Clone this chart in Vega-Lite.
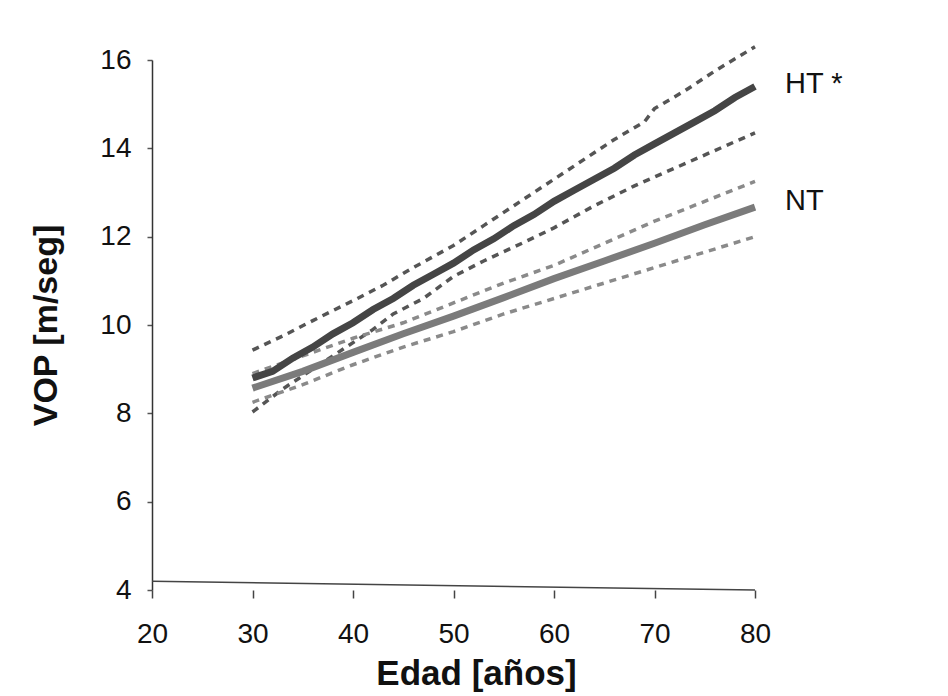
{
  "$schema": "https://vega.github.io/schema/vega-lite/v6.json",
  "width": 603,
  "height": 530,
  "autosize": {"type": "none"},
  "padding": {"left": 152, "top": 60, "right": 193, "bottom": 106},
  "background": "white",
  "config": {
    "view": {"stroke": null},
    "font": "Liberation Sans"
  },
  "datasets": {
    "lines": [
      {"s": "HT", "x": 30, "y": 8.8}, {"s": "HT", "x": 32, "y": 8.95}, {"s": "HT", "x": 34, "y": 9.25}, {"s": "HT", "x": 36, "y": 9.5}, {"s": "HT", "x": 38, "y": 9.8}, {"s": "HT", "x": 40, "y": 10.05}, {"s": "HT", "x": 42, "y": 10.35}, {"s": "HT", "x": 44, "y": 10.6}, {"s": "HT", "x": 46, "y": 10.9}, {"s": "HT", "x": 48, "y": 11.15}, {"s": "HT", "x": 50, "y": 11.4}, {"s": "HT", "x": 52, "y": 11.7}, {"s": "HT", "x": 54, "y": 11.95}, {"s": "HT", "x": 56, "y": 12.25}, {"s": "HT", "x": 58, "y": 12.5}, {"s": "HT", "x": 60, "y": 12.8}, {"s": "HT", "x": 62, "y": 13.05}, {"s": "HT", "x": 64, "y": 13.3}, {"s": "HT", "x": 66, "y": 13.55}, {"s": "HT", "x": 68, "y": 13.85}, {"s": "HT", "x": 70, "y": 14.1}, {"s": "HT", "x": 72, "y": 14.35}, {"s": "HT", "x": 74, "y": 14.6}, {"s": "HT", "x": 76, "y": 14.85}, {"s": "HT", "x": 78, "y": 15.15}, {"s": "HT", "x": 80, "y": 15.4},
      {"s": "HT_sup", "x": 30, "y": 9.43}, {"s": "HT_sup", "x": 33, "y": 9.75}, {"s": "HT_sup", "x": 36, "y": 10.1}, {"s": "HT_sup", "x": 40, "y": 10.55}, {"s": "HT_sup", "x": 43, "y": 10.9}, {"s": "HT_sup", "x": 46, "y": 11.3}, {"s": "HT_sup", "x": 50, "y": 11.8}, {"s": "HT_sup", "x": 53, "y": 12.25}, {"s": "HT_sup", "x": 56, "y": 12.7}, {"s": "HT_sup", "x": 60, "y": 13.3}, {"s": "HT_sup", "x": 63, "y": 13.75}, {"s": "HT_sup", "x": 66, "y": 14.2}, {"s": "HT_sup", "x": 69, "y": 14.6}, {"s": "HT_sup", "x": 70, "y": 14.9}, {"s": "HT_sup", "x": 73, "y": 15.3}, {"s": "HT_sup", "x": 76, "y": 15.75}, {"s": "HT_sup", "x": 80, "y": 16.3},
      {"s": "HT_inf", "x": 30, "y": 8.03}, {"s": "HT_inf", "x": 33, "y": 8.55}, {"s": "HT_inf", "x": 36, "y": 9.0}, {"s": "HT_inf", "x": 39, "y": 9.45}, {"s": "HT_inf", "x": 42, "y": 9.9}, {"s": "HT_inf", "x": 44, "y": 10.25}, {"s": "HT_inf", "x": 47, "y": 10.6}, {"s": "HT_inf", "x": 50, "y": 11.1}, {"s": "HT_inf", "x": 53, "y": 11.45}, {"s": "HT_inf", "x": 57, "y": 11.87}, {"s": "HT_inf", "x": 60, "y": 12.2}, {"s": "HT_inf", "x": 64, "y": 12.7}, {"s": "HT_inf", "x": 68, "y": 13.15}, {"s": "HT_inf", "x": 72, "y": 13.55}, {"s": "HT_inf", "x": 76, "y": 13.95}, {"s": "HT_inf", "x": 80, "y": 14.35},
      {"s": "NT", "x": 30, "y": 8.57}, {"s": "NT", "x": 35, "y": 8.95}, {"s": "NT", "x": 40, "y": 9.38}, {"s": "NT", "x": 45, "y": 9.8}, {"s": "NT", "x": 50, "y": 10.2}, {"s": "NT", "x": 55, "y": 10.62}, {"s": "NT", "x": 60, "y": 11.05}, {"s": "NT", "x": 65, "y": 11.45}, {"s": "NT", "x": 70, "y": 11.85}, {"s": "NT", "x": 75, "y": 12.27}, {"s": "NT", "x": 80, "y": 12.67},
      {"s": "NT_sup", "x": 30, "y": 8.9}, {"s": "NT_sup", "x": 35, "y": 9.3}, {"s": "NT_sup", "x": 40, "y": 9.7}, {"s": "NT_sup", "x": 45, "y": 10.05}, {"s": "NT_sup", "x": 50, "y": 10.5}, {"s": "NT_sup", "x": 55, "y": 10.95}, {"s": "NT_sup", "x": 60, "y": 11.35}, {"s": "NT_sup", "x": 65, "y": 11.85}, {"s": "NT_sup", "x": 70, "y": 12.35}, {"s": "NT_sup", "x": 75, "y": 12.8}, {"s": "NT_sup", "x": 80, "y": 13.25},
      {"s": "NT_inf", "x": 30, "y": 8.25}, {"s": "NT_inf", "x": 35, "y": 8.65}, {"s": "NT_inf", "x": 40, "y": 9.1}, {"s": "NT_inf", "x": 45, "y": 9.5}, {"s": "NT_inf", "x": 50, "y": 9.85}, {"s": "NT_inf", "x": 55, "y": 10.25}, {"s": "NT_inf", "x": 60, "y": 10.6}, {"s": "NT_inf", "x": 65, "y": 10.95}, {"s": "NT_inf", "x": 70, "y": 11.3}, {"s": "NT_inf", "x": 75, "y": 11.65}, {"s": "NT_inf", "x": 80, "y": 12.0}
    ],
    "labels": [
      {"label": "HT *", "x": 80, "y": 15.45},
      {"label": "NT", "x": 80, "y": 12.8}
    ],
    "base": [
      {"x": 20, "y": 4.2},
      {"x": 80, "y": 4.0}
    ]
  },
  "layer": [
    {
      "data": {"name": "base"},
      "mark": {"type": "line", "color": "#444444", "strokeWidth": 1.5},
      "encoding": {
        "x": {
          "field": "x", "type": "quantitative",
          "scale": {"domain": [20, 80], "nice": false, "zero": false},
          "axis": {
            "values": [20, 30, 40, 50, 60, 70, 80],
            "title": "Edad [años]",
            "grid": false,
            "domain": false,
            "ticks": true,
            "tickSize": 8,
            "tickColor": "#444444",
            "tickWidth": 1.5,
            "labelFlush": false,
            "labelFontSize": 28,
            "labelColor": "#111111",
            "labelPadding": 22,
            "titleFontSize": 35,
            "titleFontWeight": "bold",
            "titleColor": "#111111",
            "titlePadding": 8,
            "titleX": 324
          }
        },
        "y": {
          "field": "y", "type": "quantitative",
          "scale": {"domain": [4, 16], "nice": false, "zero": false},
          "axis": {
            "values": [4, 6, 8, 10, 12, 14, 16],
            "title": "VOP [m/seg]",
            "grid": false,
            "domain": true,
            "domainColor": "#333333",
            "domainWidth": 1.5,
            "tickSize": 5,
            "tickColor": "#555555",
            "tickWidth": 1.5,
            "labelFlush": false,
            "labelFontSize": 28,
            "labelColor": "#111111",
            "labelPadding": 16,
            "titleFontSize": 34,
            "titleFontWeight": "bold",
            "titleColor": "#111111",
            "titlePadding": 36
          }
        }
      }
    },
    {
      "data": {"name": "lines"},
      "transform": [{"filter": "datum.s === 'HT_sup' || datum.s === 'HT_inf' || datum.s === 'NT_sup' || datum.s === 'NT_inf'"}],
      "mark": {"type": "line", "strokeWidth": 3.5, "strokeDash": [7, 6]},
      "encoding": {
        "x": {"field": "x", "type": "quantitative"},
        "y": {"field": "y", "type": "quantitative"},
        "color": {
          "field": "s", "type": "nominal",
          "scale": {"domain": ["HT_sup", "HT_inf", "NT_sup", "NT_inf", "HT", "NT"], "range": ["#555555", "#555555", "#8a8a8a", "#8a8a8a", "#454545", "#7b7b7b"]},
          "legend": null
        }
      }
    },
    {
      "data": {"name": "lines"},
      "transform": [{"filter": "datum.s === 'HT' || datum.s === 'NT'"}],
      "mark": {"type": "line", "strokeWidth": 7},
      "encoding": {
        "x": {"field": "x", "type": "quantitative"},
        "y": {"field": "y", "type": "quantitative"},
        "color": {"field": "s", "type": "nominal", "legend": null}
      }
    },
    {
      "data": {"name": "labels"},
      "mark": {"type": "text", "align": "left", "baseline": "middle", "dx": 30, "fontSize": 29, "color": "#111111"},
      "encoding": {
        "x": {"field": "x", "type": "quantitative"},
        "y": {"field": "y", "type": "quantitative"},
        "text": {"field": "label"}
      }
    }
  ]
}
